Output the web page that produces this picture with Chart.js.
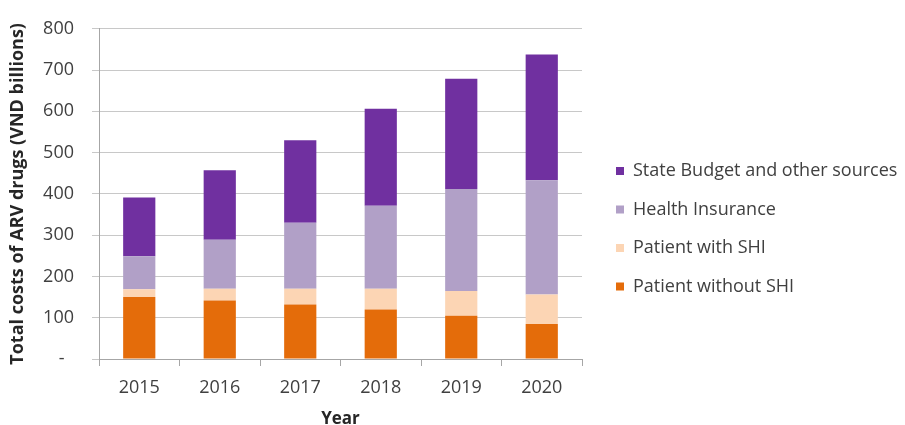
<!DOCTYPE html>
<html>
<head>
<meta charset="utf-8">
<title>ARV drug costs</title>
<script src="https://cdn.jsdelivr.net/npm/chart.js@4.4.0/dist/chart.umd.min.js"></script>
<style>
  html, body { margin: 0; padding: 0; background: #fff; }
  #wrap { position: relative; width: 905px; height: 425px; }
</style>
</head>
<body>
<div id="wrap"><canvas id="arvChart"></canvas></div>
<script>
// Costs of ARV drugs by source, VND billions
const years = ['2015', '2016', '2017', '2018', '2019', '2020'];
const patientWithoutShi = [150, 142, 132, 120, 105, 85];
const patientWithShi = [19, 28, 38, 50, 60, 71];
const healthInsurance = [80, 119, 160, 201, 247, 277];
const stateBudget = [142, 168, 200, 235, 267, 305];
const yTicks = [0, 100, 200, 300, 400, 500, 600, 700, 800];

const FONT = '"Open Sans", "Noto Sans", sans-serif';
const TEXT = '#404040';

// right-hand legend, top entry = top of the stack
const sideLegend = {
  id: 'sideLegend',
  afterDraw(chart) {
    const ctx = chart.ctx;
    const sets = chart.data.datasets.slice().reverse();
    ctx.save();
    ctx.font = '18px ' + FONT;
    ctx.textBaseline = 'middle';
    sets.forEach((ds, i) => {
      const y = 171 + i * 38.5;
      ctx.fillStyle = ds.backgroundColor;
      ctx.fillRect(616, y - 4, 8, 8);
      ctx.fillStyle = TEXT;
      ctx.fillText(ds.label, 633, y);
    });
    ctx.restore();
  }
};

new Chart(document.getElementById('arvChart'), {
  type: 'bar',
  data: {
    labels: years,
    datasets: [
      { label: 'Patient without SHI', data: patientWithoutShi, backgroundColor: '#e46c0a' },
      { label: 'Patient with SHI', data: patientWithShi, backgroundColor: '#fcd5b4' },
      { label: 'Health Insurance', data: healthInsurance, backgroundColor: '#b1a0c7' },
      { label: 'State Budget and other sources', data: stateBudget, backgroundColor: '#7030a0' }
    ]
  },
  options: {
    responsive: true,
    maintainAspectRatio: false,
    animation: false,
    barPercentage: 0.4,
    categoryPercentage: 1,
    layout: { padding: { top: 22, right: 323, left: 0, bottom: 0 } },
    plugins: { legend: { display: false }, tooltip: { enabled: false } },
    scales: {
      x: {
        stacked: true,
        afterFit(scale) { scale.height = 66; },
        grid: { drawOnChartArea: false, drawTicks: true, tickLength: 7, color: '#a6a6a6' },
        border: { color: '#a6a6a6' },
        ticks: { color: TEXT, font: { family: FONT, size: 18 }, padding: 11 },
        title: {
          display: true, text: 'Year', color: '#262626',
          font: { family: FONT, size: 17, weight: 'bold', lineHeight: 1 },
          padding: { top: 0, bottom: -3 }
        }
      },
      y: {
        stacked: true,
        min: 0,
        max: 800,
        afterFit(scale) { scale.width = 99; },
        afterBuildTicks(scale) { scale.ticks = yTicks.map(v => ({ value: v })); },
        grid: { color: '#c8c8c8', tickLength: 7 },
        border: { color: '#a6a6a6' },
        ticks: {
          color: TEXT, font: { family: FONT, size: 18 }, padding: 18,
          callback: v => v === 0 ? '-  ' : v
        },
        title: {
          display: true, text: 'Total costs of ARV drugs (VND billions)', color: '#262626',
          font: { family: FONT, size: 18, weight: 'bold', lineHeight: 1.2 },
          padding: { top: 7, bottom: 0 }
        }
      }
    }
  },
  plugins: [sideLegend]
});
</script>
</body>
</html>
